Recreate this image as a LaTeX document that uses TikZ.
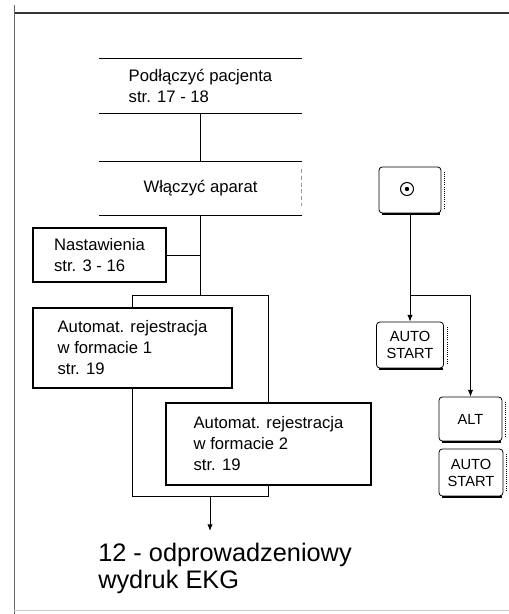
\documentclass[tikz,border=0pt]{standalone}
\usepackage{fontspec}
\setmainfont{Liberation Sans}
\usetikzlibrary{arrows.meta,calc}
\begin{document}
\begin{tikzpicture}[x=0.75pt,y=0.75pt,yscale=-1,xscale=1,
	flowbox/.style={align=left,inner sep=0.75pt,line width=0.8pt,font=\fontsize{12.5}{15.75}\selectfont},
	keycap/.style={draw,rounded corners=2.5pt,align=center,inner sep=0.75pt,line width=0.6pt,font=\fontsize{11}{12.75}\selectfont},
	wire/.style={line width=0.7pt},
	arr/.style={-{Latex[length=5pt,width=4pt]}}]
			\useasboundingbox (0,0) rectangle (509,614);
			%Straight Lines (frame)
			\draw [line width=0.9pt,black!80] (14,13) -- (509,13) ;
			\draw [line width=0.5pt,black!60] (14,5) -- (14,614) ;
			\draw [line width=0.4pt,black!20] (14,610) -- (509,610) ;
			% Text Node
			\draw (200.5,86) node (podl) [flowbox,minimum width=150.75pt,minimum height=40.5pt] {Podłączyć pacjenta\\str. 17 - 18};
			\draw [wire] (podl.north west) -- (podl.north east) (podl.south west) -- (podl.south east) ;
			% Text Node
			\draw (200.5,188.5) node (wlacz) [flowbox,minimum width=150.75pt,minimum height=39.75pt] {Włączyć aparat};
			\draw [wire] (wlacz.north west) -- (wlacz.north east) (wlacz.south west) -- (wlacz.south east) ;
			\draw [black!40,densely dashed] ($(wlacz.north east)+(0,8)$) -- ($(wlacz.south east)+(0,-10)$) ;
			% Text Node
			\draw (99.5,255) node (nast) [flowbox,draw,minimum width=99.75pt,minimum height=40.5pt] {Nastawienia\\str. 3 - 16};
			% Text Node
			\draw (132.5,348) node (auto1) [flowbox,draw,minimum width=149.25pt,minimum height=60pt] {Automat. rejestracja\\w formacie 1\\str. 19};
			% Text Node
			\draw (268.5,444) node (auto2) [flowbox,draw,minimum width=153.75pt,minimum height=61.5pt] {Automat. rejestracja\\w formacie 2\\str. 19};
			%Straight Lines
			\coordinate (split) at (200.5,295);
			\draw [wire] (podl.south) -- (wlacz.north) ;
			\draw [wire] (wlacz.south) -- (split) ;
			\draw [wire] (nast.east) -- (nast.east -| split) ;
			\draw [wire] (auto1.north) |- (auto2.north |- split) -- (auto2.north) ;
			\coordinate (merge) at (210,496);
			\coordinate (outtip) at (210,531);
			\draw [wire] (auto1.south) |- (auto2.south |- merge) -- (auto2.south) ;
			\draw [wire,arr] (merge) -- (outtip) ;
			% Text Node
			\draw (97,568) node (wydruk) [anchor=west,align=left,inner sep=0.75pt,font=\fontsize{19}{20.25}\selectfont] {12 - odprowadzeniowy\\wydruk EKG};
			% Keys
			\draw (410,190) node (pwr) [keycap,minimum width=46.5pt,minimum height=34.5pt] {};
			\draw [line width=0.8pt] ($(pwr.center)+(-3,-1)$) circle (6.5) ;
			\fill ($(pwr.center)+(-3,-1)$) circle (2.2) ;
			\draw (410,345) node (as1) [keycap,minimum width=50.25pt,minimum height=34.5pt] {AUTO\\START};
			\draw (470.5,419) node (alt) [keycap,minimum width=47.25pt,minimum height=33pt] {ALT};
			\draw (471,472.5) node (as2) [keycap,minimum width=48pt,minimum height=35.25pt] {AUTO\\START};
			\foreach \k in {pwr,as1,alt,as2} {
				\draw [line width=1.4pt] ($(\k.south west)+(3,1)$) -- ($(\k.south east)+(-1,1)$) ;
				\draw [densely dotted,line width=0.6pt] ($(\k.north east)+(3,5)$) -- ($(\k.south east)+(3,-5)$) ;
			}
			%Straight Lines
			\coordinate (fork) at (410,295);
			\draw [wire,arr] (pwr.south) -- (as1.north) ;
			\draw [wire,arr] (fork) -| (alt.north) ;
\end{tikzpicture}
\end{document}
